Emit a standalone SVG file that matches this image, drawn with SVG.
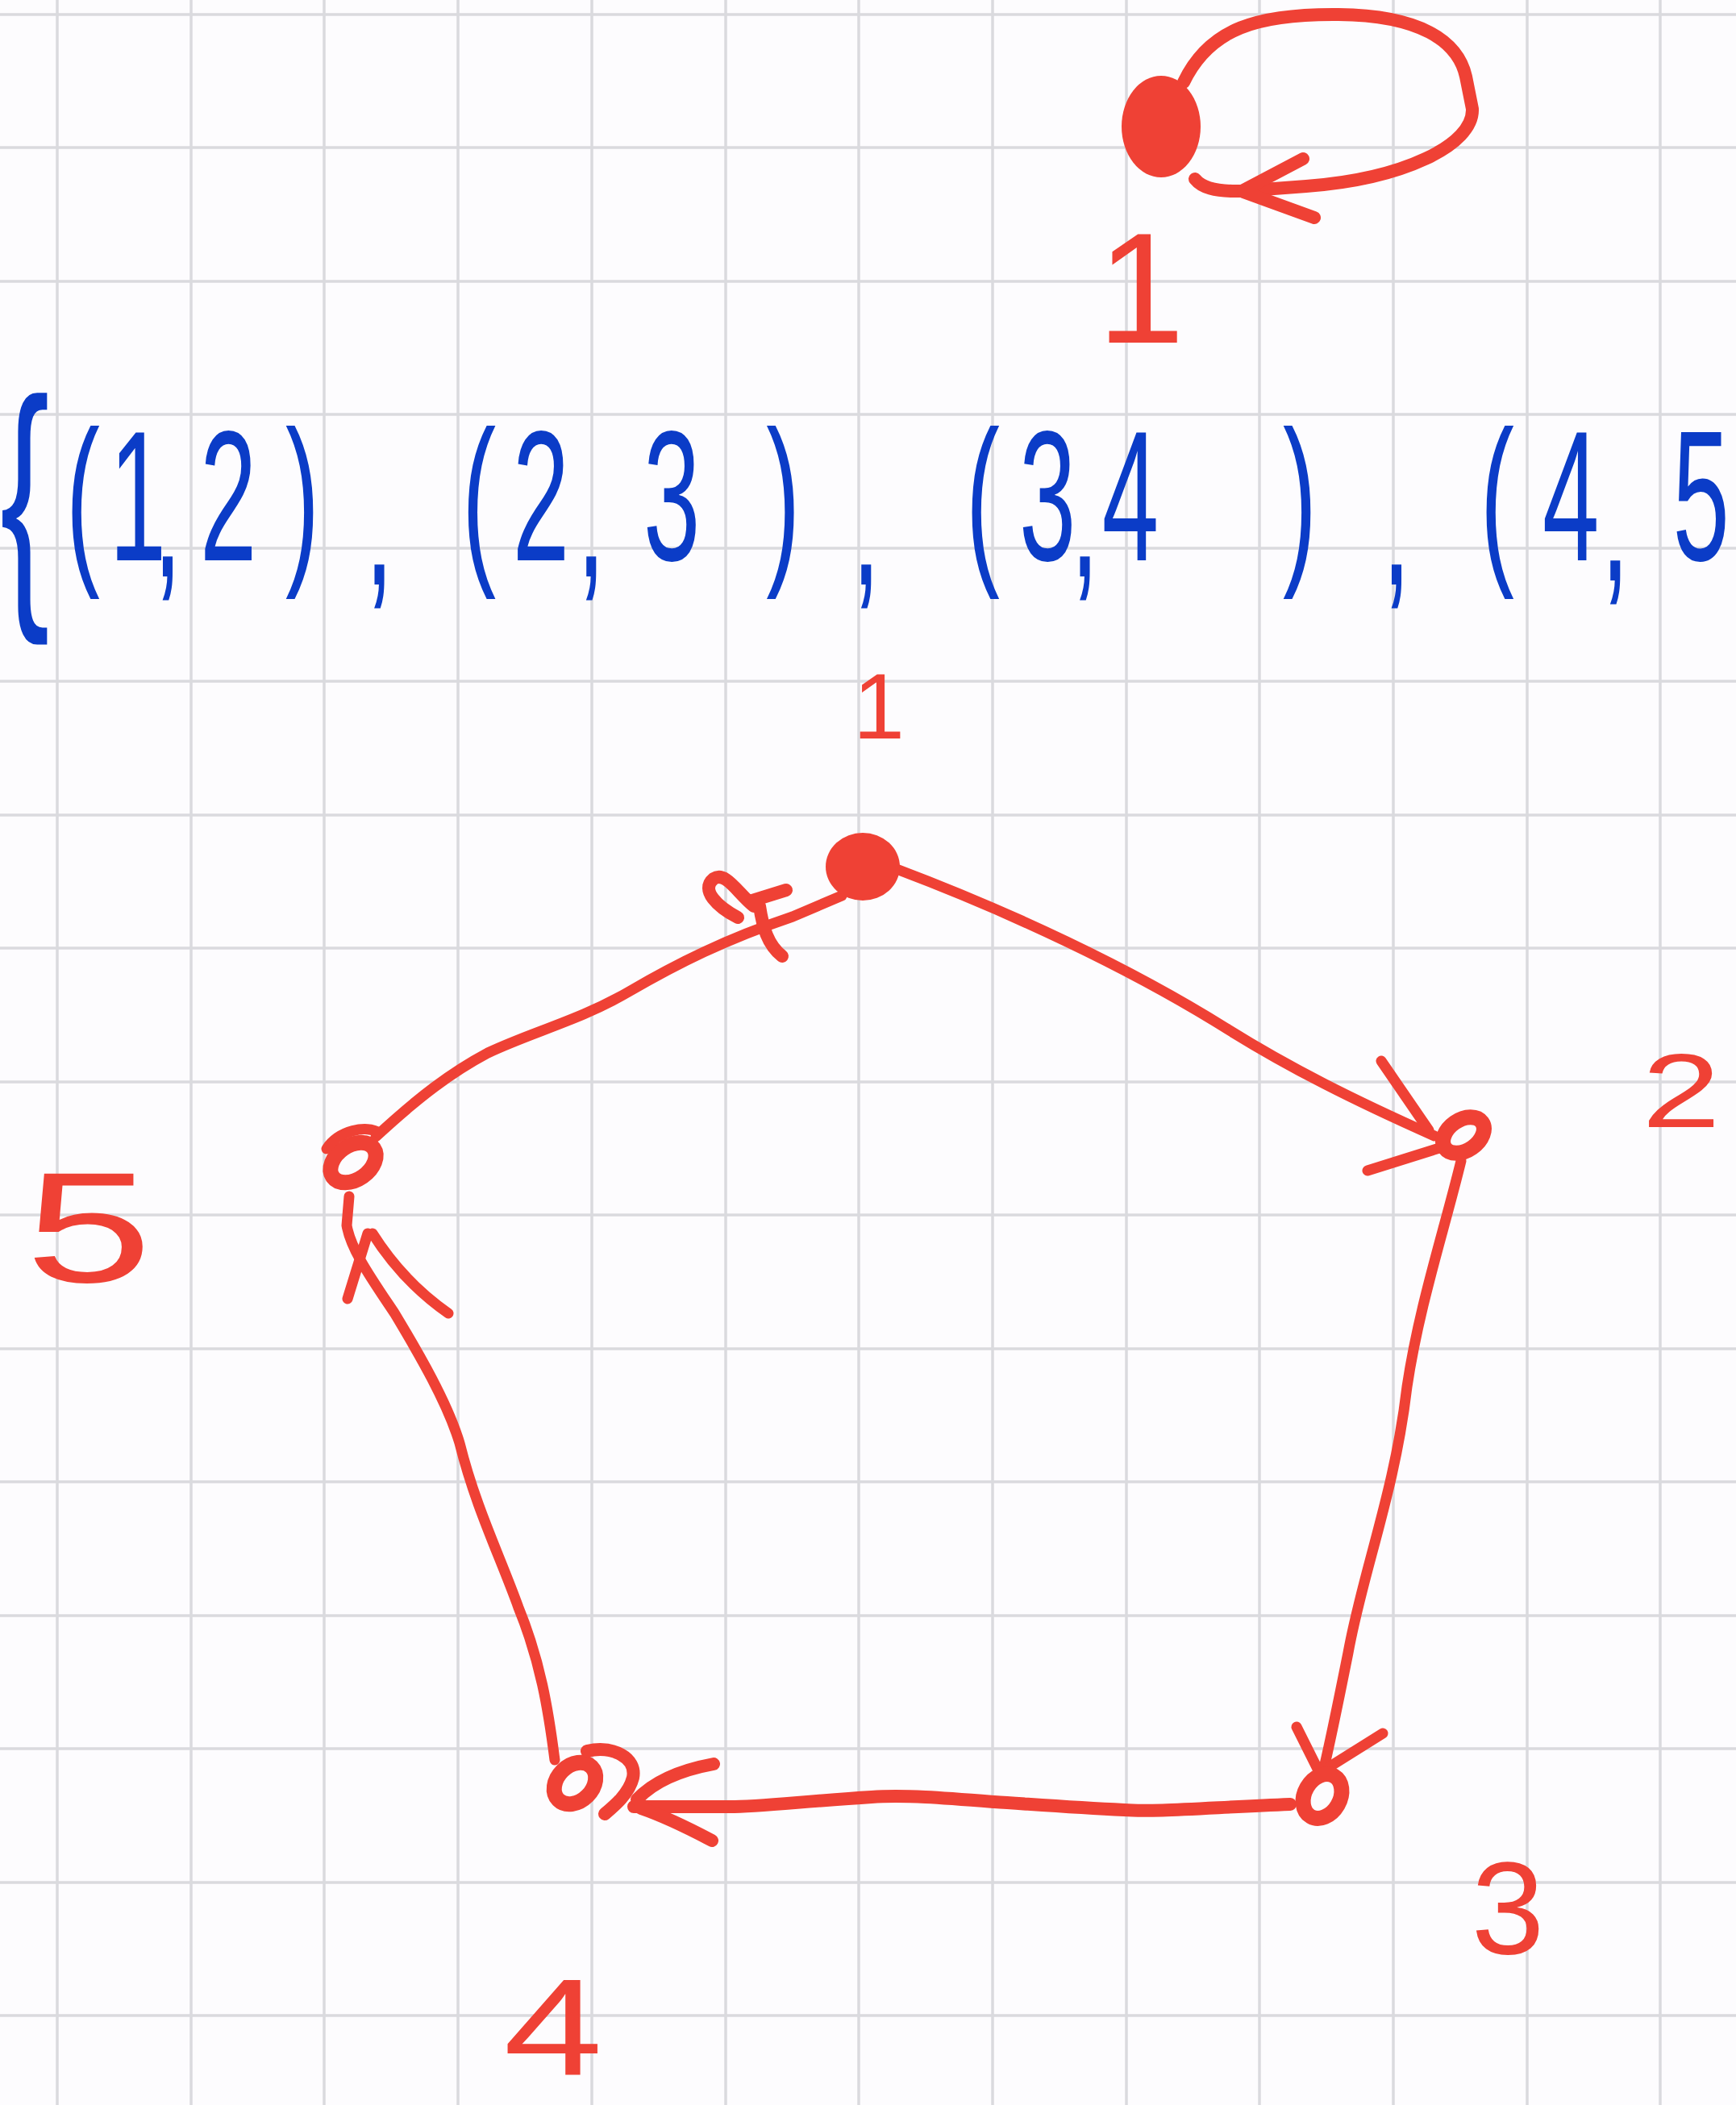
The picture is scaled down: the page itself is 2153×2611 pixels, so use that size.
<svg xmlns="http://www.w3.org/2000/svg" width="2153" height="2611" viewBox="0 0 2153 2611">
<style>
.grid line{stroke:#dadade;stroke-width:3.5}
.edge{fill:none;stroke:#ef4135;stroke-width:13;stroke-linecap:round;stroke-linejoin:round}
.thick{stroke-width:16}
.dot{fill:#ef4135}
.ring{fill:none;stroke:#ef4135;stroke-width:19;stroke-linecap:round}
.lbl{font-family:"Liberation Sans",Arial,sans-serif;fill:#ef4135;text-anchor:middle}
.set{font-family:"Liberation Sans",Arial,sans-serif;fill:#0b3cc7;text-anchor:middle}
</style>
<rect width="2153" height="2611" fill="#fdfcfe"/>
<g class="grid">
<line x1="71" y1="0" x2="71" y2="2611"/><line x1="237" y1="0" x2="237" y2="2611"/><line x1="402" y1="0" x2="402" y2="2611"/><line x1="568" y1="0" x2="568" y2="2611"/><line x1="734" y1="0" x2="734" y2="2611"/><line x1="900" y1="0" x2="900" y2="2611"/><line x1="1065" y1="0" x2="1065" y2="2611"/><line x1="1231" y1="0" x2="1231" y2="2611"/><line x1="1397" y1="0" x2="1397" y2="2611"/><line x1="1562" y1="0" x2="1562" y2="2611"/><line x1="1728" y1="0" x2="1728" y2="2611"/><line x1="1894" y1="0" x2="1894" y2="2611"/><line x1="2059" y1="0" x2="2059" y2="2611"/>
<line x1="0" y1="18" x2="2153" y2="18"/><line x1="0" y1="183" x2="2153" y2="183"/><line x1="0" y1="349" x2="2153" y2="349"/><line x1="0" y1="514" x2="2153" y2="514"/><line x1="0" y1="680" x2="2153" y2="680"/><line x1="0" y1="845" x2="2153" y2="845"/><line x1="0" y1="1011" x2="2153" y2="1011"/><line x1="0" y1="1176" x2="2153" y2="1176"/><line x1="0" y1="1342" x2="2153" y2="1342"/><line x1="0" y1="1507" x2="2153" y2="1507"/><line x1="0" y1="1673" x2="2153" y2="1673"/><line x1="0" y1="1838" x2="2153" y2="1838"/><line x1="0" y1="2004" x2="2153" y2="2004"/><line x1="0" y1="2169" x2="2153" y2="2169"/><line x1="0" y1="2335" x2="2153" y2="2335"/><line x1="0" y1="2500" x2="2153" y2="2500"/>
</g>
<g id="edge-set" transform="scale(0.55,1)">
<text class="set" x="56" y="730" font-size="335">{</text>
<text class="set" font-size="230" x="187 311 378 515 682 855 1080 1220 1333 1515 1766 1953 2216 2362 2446 2549 2931 3149 3376 3542 3642 3836" y="695 695 715 695 695 725 695 695 715 695 695 725 695 695 715 695 695 725 695 695 720 695">(1,2),(2,3),(3,4),(4,5</text>
</g>
<g id="connectors">
<path class="edge thick" d="M1468,102 C1500,35 1560,17 1660,18 C1760,19 1808,50 1818,95 L1826,135 C1828,180 1740,222 1620,231 L1540,237 C1505,238 1490,232 1482,222"/>
<path class="edge thick" d="M1616,197 L1542,236 M1630,270 L1542,238"/>
<path class="edge" d="M1112,1078 C1250,1130 1400,1200 1520,1275 C1600,1325 1680,1365 1779,1409"/>
<path class="edge" d="M1713,1316 L1772,1402 M1696,1452 L1785,1424"/>
<path class="edge" d="M1812,1440 C1790,1530 1760,1620 1745,1720 C1730,1850 1690,1950 1672,2050 C1660,2110 1650,2160 1641,2197"/>
<path class="edge" d="M1608,2142 L1637,2200 M1715,2150 L1648,2192"/>
<path class="edge thick" d="M1600,2238 C1500,2242 1430,2248 1394,2245 C1330,2242 1280,2238 1233,2235 C1170,2230 1120,2226 1081,2229 C1000,2234 930,2242 902,2241 L786,2241"/>
<path class="edge thick" d="M885,2188 Q820,2200 790,2232 M883,2283 Q830,2255 795,2243"/>
<path class="edge" d="M688,2183 C680,2120 670,2060 643,1994 C620,1930 590,1870 570,1790 C555,1740 520,1680 490,1630 C460,1585 435,1550 430,1520 L433,1484"/>
<path class="edge" d="M431,1611 L456,1530 M556,1629 Q500,1590 462,1530"/>
<path class="edge" d="M466,1410 C520,1360 560,1330 605,1306 C660,1280 720,1265 780,1230 C840,1195 900,1165 983,1137 L1044,1111"/>
<path class="edge thick" d="M915,1138 C890,1125 868,1104 885,1090 C900,1080 915,1108 935,1124 M930,1118 L975,1104 M942,1124 C946,1150 952,1172 970,1186"/>
</g>
<g id="node-1-loop">
<ellipse class="dot" cx="1440" cy="157" rx="49" ry="63"/>
<text class="lbl" x="1415" y="425" font-size="195">1</text>
</g>
<g id="node-1">
<ellipse class="dot" cx="1070" cy="1075" rx="46" ry="42"/>
<text class="lbl" x="1090" y="916" font-size="115">1</text>
</g>
<g id="node-2">
<ellipse class="ring" cx="1815" cy="1408" rx="28" ry="19" transform="rotate(-35 1815 1408)"/>
<text class="lbl" transform="translate(2085 1398) scale(1.35 1)" font-size="130">2</text>
</g>
<g id="node-3">
<ellipse class="ring" cx="1640" cy="2228" rx="22" ry="29" transform="rotate(30 1640 2228)"/>
<text class="lbl" x="1870" y="2423" font-size="163">3</text>
</g>
<g id="node-4">
<ellipse class="ring" cx="713" cy="2212" rx="29" ry="22" transform="rotate(-45 713 2212)"/>
<path class="edge thick" d="M728,2172 C760,2165 790,2180 785,2205 C780,2225 762,2240 750,2250"/>
<text class="lbl" transform="translate(686 2574) scale(1.3 1)" font-size="170">4</text>
</g>
<g id="node-5">
<ellipse class="ring" cx="438" cy="1442" rx="31" ry="21" transform="rotate(-35 438 1442)"/>
<path class="edge" d="M405,1425 C420,1402 455,1395 470,1405"/>
<text class="lbl" transform="translate(110 1590) scale(1.45 1)" font-size="195">5</text>
</g>
</svg>
